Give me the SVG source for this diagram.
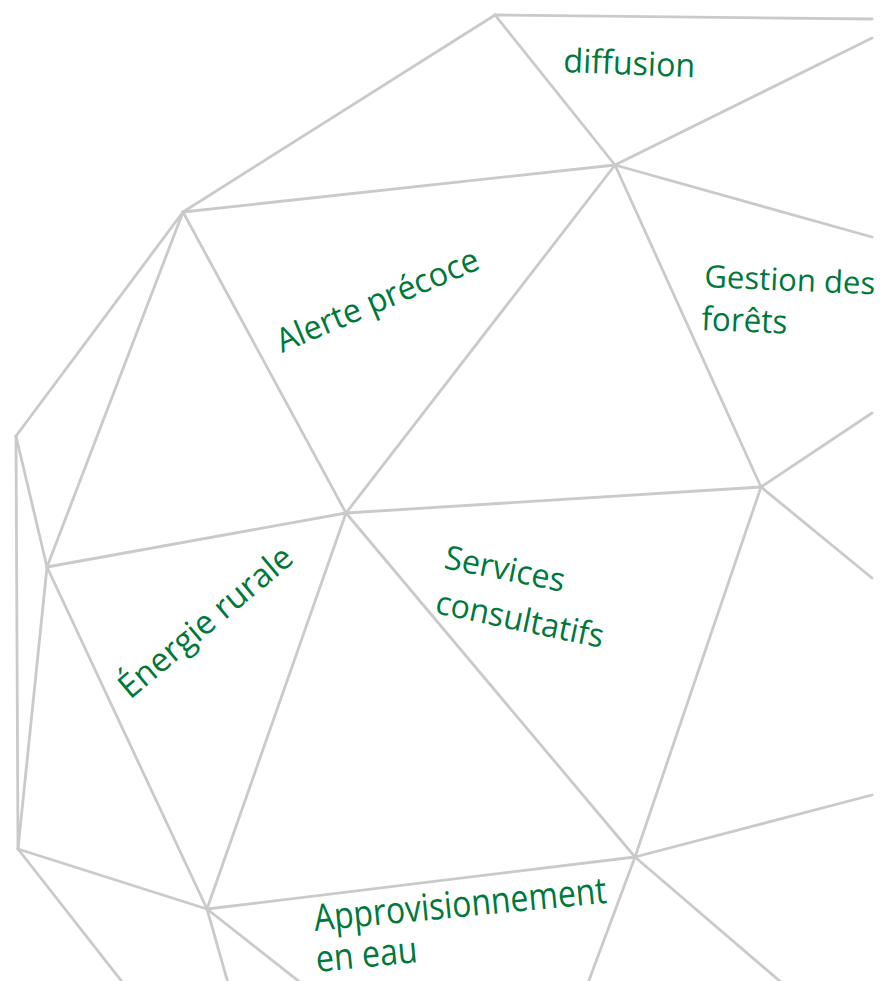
<svg xmlns="http://www.w3.org/2000/svg" width="883" height="981" viewBox="0 0 883 981">
<style>
.e{stroke:#cacaca;stroke-width:2.8;stroke-linecap:round;fill:none}
.t{font-family:"Open Sans","Noto Sans","Liberation Sans",sans-serif;fill:#00783c;font-size:33px}
</style>
<rect width="883" height="981" fill="#ffffff"/>
<g id="connectors">
<line class="e" x1="495" y1="15" x2="872" y2="19"/>
<line class="e" x1="495" y1="15" x2="183" y2="212"/>
<line class="e" x1="495" y1="15" x2="615" y2="165"/>
<line class="e" x1="615" y1="165" x2="872" y2="38"/>
<line class="e" x1="615" y1="165" x2="183" y2="212"/>
<line class="e" x1="615" y1="165" x2="872" y2="237"/>
<line class="e" x1="615" y1="165" x2="346" y2="513"/>
<line class="e" x1="615" y1="165" x2="761" y2="487"/>
<line class="e" x1="183" y1="212" x2="16" y2="436"/>
<line class="e" x1="183" y1="212" x2="47" y2="567"/>
<line class="e" x1="183" y1="212" x2="346" y2="513"/>
<line class="e" x1="16" y1="436" x2="47" y2="567"/>
<line class="e" x1="16" y1="436" x2="18" y2="849"/>
<line class="e" x1="47" y1="567" x2="346" y2="513"/>
<line class="e" x1="47" y1="567" x2="18" y2="849"/>
<line class="e" x1="47" y1="567" x2="207" y2="909"/>
<line class="e" x1="346" y1="513" x2="761" y2="487"/>
<line class="e" x1="346" y1="513" x2="207" y2="909"/>
<line class="e" x1="346" y1="513" x2="635" y2="857"/>
<line class="e" x1="761" y1="487" x2="872" y2="413"/>
<line class="e" x1="761" y1="487" x2="872" y2="578"/>
<line class="e" x1="761" y1="487" x2="635" y2="857"/>
<line class="e" x1="18" y1="849" x2="207" y2="909"/>
<line class="e" x1="18" y1="849" x2="123" y2="983"/>
<line class="e" x1="207" y1="909" x2="635" y2="857"/>
<line class="e" x1="207" y1="909" x2="228" y2="983"/>
<line class="e" x1="207" y1="909" x2="301" y2="983"/>
<line class="e" x1="635" y1="857" x2="872" y2="795"/>
<line class="e" x1="635" y1="857" x2="588" y2="983"/>
<line class="e" x1="635" y1="857" x2="782" y2="983"/>
</g>
<g id="diffusion">
<text class="t" x="563" y="72" transform="rotate(2.3 563 72)" textLength="132" lengthAdjust="spacingAndGlyphs">diffusion</text>
</g>
<g id="alerte-precoce">
<text class="t" x="282" y="353" transform="rotate(-23 282 353)" textLength="217" lengthAdjust="spacingAndGlyphs">Alerte précoce</text>
</g>
<g id="gestion-des-forets">
<text class="t" x="704" y="287" transform="rotate(2.5 704 287)" textLength="171" lengthAdjust="spacingAndGlyphs" style="font-size:31px">Gestion des</text>
<text class="t" x="701" y="330" transform="rotate(2.5 701 330)" textLength="86" lengthAdjust="spacingAndGlyphs">forêts</text>
</g>
<g id="services-consultatifs">
<text class="t" x="443" y="568" transform="rotate(11.3 443 568)" textLength="122" lengthAdjust="spacingAndGlyphs">Services</text>
<text class="t" x="434" y="613" transform="rotate(11.8 434 613)" textLength="171" lengthAdjust="spacingAndGlyphs">consultatifs</text>
</g>
<g id="energie-rurale">
<text class="t" x="130" y="700" transform="rotate(-40 130 700)" textLength="216" lengthAdjust="spacingAndGlyphs">Énergie rurale</text>
</g>
<g id="approvisionnement-en-eau">
<text class="t" x="315" y="931" transform="rotate(-5.5 315 931)" textLength="294" lengthAdjust="spacingAndGlyphs" style="font-size:37px">Approvisionnement</text>
<text class="t" x="317" y="972" transform="rotate(-5.5 317 972)" textLength="102" lengthAdjust="spacingAndGlyphs" style="font-size:37px">en eau</text>
</g>
</svg>
